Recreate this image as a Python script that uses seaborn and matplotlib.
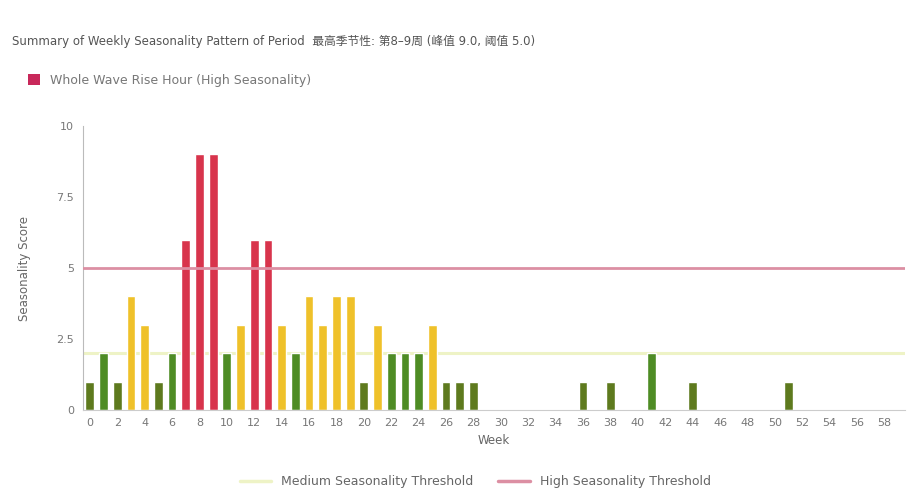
import matplotlib
matplotlib.use("Agg")
import matplotlib.pyplot as plt
import seaborn as sns
import pandas as pd
from matplotlib.patches import Patch
from matplotlib.lines import Line2D

# ---- data ----
periods = [str(i) for i in range(60)]
scores = [1, 2, 1, 4, 3, 1, 2, 6, 9, 9,
          2, 3, 6, 6, 3, 2, 4, 3, 4, 4,
          1, 3, 2, 2, 2, 3, 1, 1, 1, 0,
          0, 0, 0, 0, 0, 0, 1, 0, 1, 0,
          0, 2, 0, 0, 1, 0, 0, 0, 0, 0,
          0, 1, 0, 0, 0, 0, 0, 0, 0, 0]
tick_labels = [str(i) for i in range(0, 60, 2)]
medium_threshold = 2.0
high_threshold = 5.0
y_ticks = [0, 2.5, 5, 7.5, 10]
y_tick_labels = ["0", "2.5", "5", "7.5", "10"]

title_text = "Summary of Weekly Seasonality Pattern of Period  最高季节性: 第8–9周 (峰值 9.0, 阈值 5.0)"
legend_top = "Whole Wave Rise Hour (High Seasonality)"
x_label = "Week"
y_label = "Seasonality Score"


def level(v):
    if v >= high_threshold:
        return "high"
    if v >= 3:
        return "mid"
    if v >= 2:
        return "low2"
    return "low1"


df = pd.DataFrame({"period": periods, "score": scores})
df["level"] = [level(v) for v in scores]
palette = {"high": "#d8344c", "mid": "#efc12a", "low2": "#4e8c24", "low1": "#5e7a1e"}

sns.set_style("white")
plt.rcParams["font.family"] = ["DejaVu Sans", "Noto Sans CJK SC"]

fig = plt.figure(figsize=(9.23, 5.01), dpi=100)
ax = fig.add_axes([0.0899, 0.1816, 0.8906, 0.5669])

sns.barplot(data=df, x="period", y="score", hue="level", palette=palette,
            order=periods, dodge=False, width=0.64, legend=False, ax=ax,
            saturation=1)

ax.axhline(medium_threshold, color="#eef3c6", lw=2.2, zorder=0.5)
ax.axhline(high_threshold, color="#dc8fa3", lw=2, zorder=3)

ax.set_ylim(0, 10)
ax.set_xlim(-0.5, 59.5)
ax.set_yticks(y_ticks)
ax.set_yticklabels(y_tick_labels)
ax.set_xticks(range(0, 60, 2))
ax.set_xticklabels(tick_labels)
ax.tick_params(axis="both", labelsize=8, colors="#777777", length=3)
ax.tick_params(axis="x", pad=3)
ax.set_xlabel(x_label, fontsize=8.5, color="#666666", labelpad=4)
ax.set_ylabel(y_label, fontsize=8.5, color="#666666", labelpad=18)

for s in ["top", "right"]:
    ax.spines[s].set_visible(False)
ax.spines["left"].set_color("#bbbbbb")
ax.spines["bottom"].set_color("#cccccc")
ax.grid(False)

fig.text(0.013, 0.918, title_text, fontsize=8.5, color="#555555",
         family=["DejaVu Sans", "Noto Sans CJK SC"], va="center")

fig.legend(handles=[Patch(facecolor="#c8285a", edgecolor="none", label=legend_top)],
           loc="center left", bbox_to_anchor=(0.018, 0.84), frameon=False,
           fontsize=9, handlelength=1.0, handleheight=1.0, labelcolor="#777777")

fig.legend(handles=[Line2D([0], [0], color="#eef3c6", lw=2.5, label="Medium Seasonality Threshold"),
                    Line2D([0], [0], color="#dc8fa3", lw=2.5, label="High Seasonality Threshold")],
           loc="center", bbox_to_anchor=(0.515, 0.038), ncol=2, frameon=False,
           fontsize=9, labelcolor="#666666", handlelength=2.5, columnspacing=2.0)

fig.savefig("out.png", dpi=100, facecolor="white")
